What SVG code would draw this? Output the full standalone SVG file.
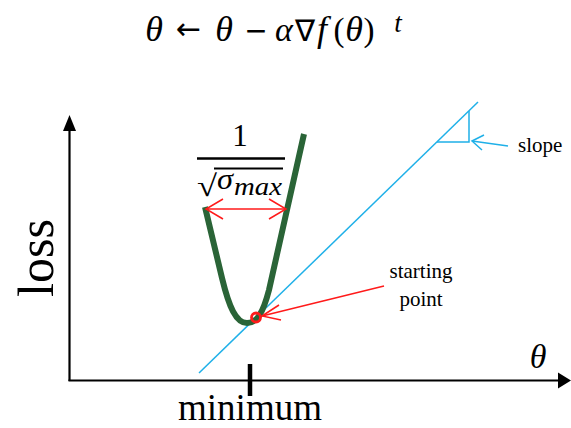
<svg xmlns="http://www.w3.org/2000/svg" width="571" height="428" viewBox="0 0 571 428">
<style>
.serif{font-family:"Liberation Serif","Times New Roman",serif;fill:#000}
.sym{font-family:"DejaVu Sans","Liberation Sans",sans-serif;fill:#000}
.it{font-style:italic}
.axis{stroke:#000;stroke-width:2.2;fill:none}
.blue{stroke:#1FB0E8;stroke-width:1.5;fill:none}
.red{stroke:#FF1A1A;stroke-width:1.5;fill:none}
</style>
<rect width="571" height="428" fill="#fff"/>
<g id="formula" class="serif" font-size="36">
  <text x="154" y="41" text-anchor="middle" class="it">θ</text>
  <text x="188.5" y="39" text-anchor="middle" class="sym" font-size="30">←</text>
  <text x="224" y="41" text-anchor="middle" class="it">θ</text>
  <text x="256" y="40" text-anchor="middle" class="sym" font-size="28">−</text>
  <text x="284" y="41" text-anchor="middle" class="it" font-size="34">α</text>
  <text x="305" y="41" text-anchor="middle" font-size="30">∇</text>
  <text x="322" y="41" text-anchor="middle" class="it">f</text>
  <text x="339" y="41" text-anchor="middle" font-size="33">(</text>
  <text x="354" y="41" text-anchor="middle" class="it">θ</text>
  <text x="369" y="41" text-anchor="middle" font-size="33">)</text>
  <text x="398" y="32" text-anchor="middle" class="it" font-size="27">t</text>
</g>
<g id="axes">
  <line class="axis" x1="69.5" y1="381" x2="69.5" y2="128"/>
  <polygon points="69.5,115 63,131 76,131" fill="#000"/>
  <line class="axis" x1="68.5" y1="380.5" x2="560" y2="380.5"/>
  <polygon points="571,380.5 558,372.5 558,388.5" fill="#000"/>
  <line x1="250" y1="364" x2="250" y2="396" stroke="#000" stroke-width="4.5"/>
</g>
<g id="labels" class="serif">
  <text x="250" y="420" text-anchor="middle" font-size="37">minimum</text>
  <text x="538" y="368" text-anchor="middle" font-size="34" class="it">θ</text>
  <text transform="translate(53,258) rotate(-90)" text-anchor="middle" font-size="50">loss</text>
</g>
<g id="tangent">
  <line class="blue" x1="199" y1="373" x2="478" y2="102"/>
  <polyline class="blue" points="437,142 469,142 469,111"/>
</g>
<g id="curve">
  <path d="M205,207 L222,278 C229,307 236,323 247,323 C257,323 263,313 269,290 L304,134" fill="none" stroke="#2A6437" stroke-width="6"/>
</g>
<g id="fraction" class="serif">
  <text x="240" y="146" text-anchor="middle" font-size="31">1</text>
  <line x1="197" y1="158.5" x2="285" y2="158.5" stroke="#000" stroke-width="2.5"/>
  <text x="197" y="196" font-size="30" textLength="20" lengthAdjust="spacingAndGlyphs">√</text>
  <line x1="214" y1="168.5" x2="283" y2="168.5" stroke="#000" stroke-width="2"/>
  <text x="217" y="189" font-size="30" class="it" textLength="16" lengthAdjust="spacingAndGlyphs">σ</text>
  <text x="234" y="195" font-size="26" class="it" textLength="48" lengthAdjust="spacingAndGlyphs">max</text>
</g>
<g id="connectors">
  <line class="red" x1="206" y1="209" x2="285" y2="209"/>
  <polyline class="red" points="223,199 206,209 223,219"/>
  <polyline class="red" points="269,199 286,209 269,219"/>
  <line class="red" x1="384" y1="286" x2="262" y2="316"/>
  <polyline class="red" points="279,305 262,316 281,320"/>
  <line class="blue" x1="508" y1="146" x2="472" y2="141"/>
  <polyline class="blue" points="484,135 472,141 482,150"/>
</g>
<g id="start-point">
  <circle cx="256" cy="317.5" r="4.5" fill="none" stroke="#FF1A1A" stroke-width="2.8"/>
</g>
<g id="annotations" class="serif" font-size="21">
  <text x="518" y="152">slope</text>
  <text x="421" y="278" text-anchor="middle">starting</text>
  <text x="421" y="306" text-anchor="middle">point</text>
</g>
</svg>
